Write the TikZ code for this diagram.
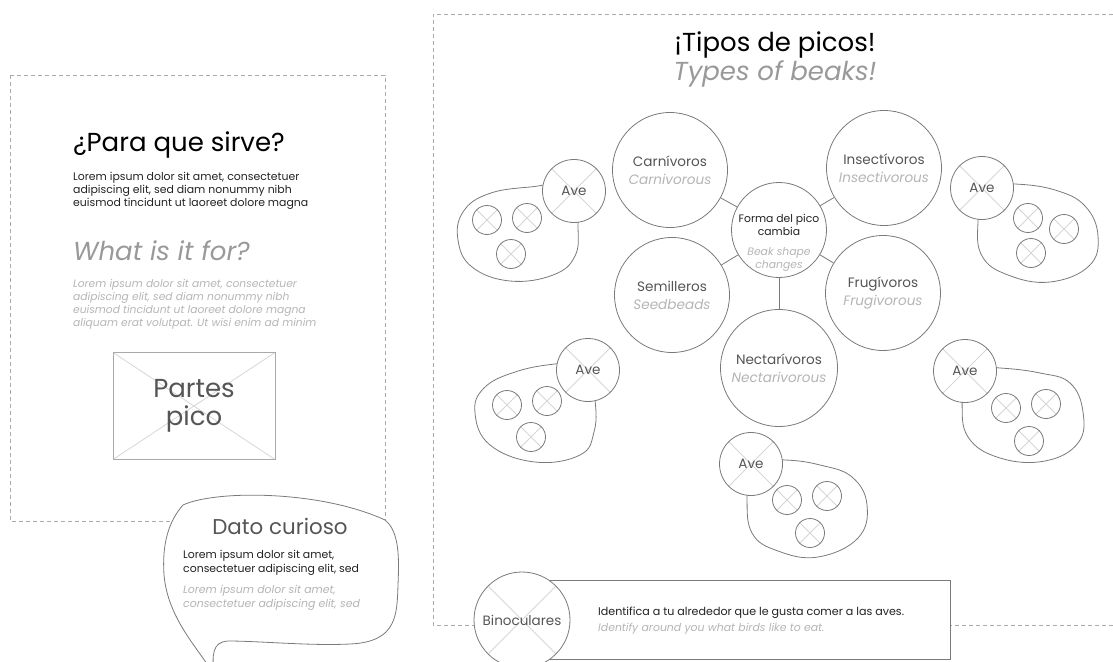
\documentclass[tikz,border=0pt]{standalone}
\usepackage{fontspec}
\setmainfont{Poppins}
\definecolor{linec}{HTML}{7A7A7A}
\definecolor{dashc}{HTML}{AAAAAA}
\definecolor{crossc}{HTML}{D6D6D6}
\definecolor{txtdark}{HTML}{222222}
\definecolor{txtmid}{HTML}{555555}
\definecolor{txtgray}{HTML}{999999}
\definecolor{txtlight}{HTML}{B5B5B5}
\begin{document}
\begin{tikzpicture}[x=1pt,y=-1pt,
  dashline/.style={draw=dashc,line width=0.8pt,dash pattern=on 4pt off 3pt},
  outl/.style={draw=linec,line width=0.8pt},
  xcross/.style={path picture={\draw[crossc,line width=0.8pt]
     (path picture bounding box.north west) -- (path picture bounding box.south east)
     (path picture bounding box.north east) -- (path picture bounding box.south west);}},
  ring/.style={circle,outl,fill=white,inner sep=0pt,minimum size=#1},
  big/.style={ring=115pt,align=center,font=\fontsize{13.6}{18}\selectfont,text=txtmid},
  ave/.style={ring=63pt,xcross,font=\fontsize{13.5}{16}\selectfont,text=txtmid},
  seed/.style={ring=29pt,xcross},
  blob/.style={outl},
  h1/.style={inner sep=0pt,font=\fontsize{26}{30}\selectfont,text=black},
  h1it/.style={inner sep=0pt,font=\fontsize{26}{30}\selectfont\itshape,text=txtgray},
  body/.style={inner sep=0pt,align=left,font=\fontsize{10.9}{12.7}\selectfont,text=txtdark},
  bodyit/.style={inner sep=0pt,align=left,font=\fontsize{10.7}{13.0}\selectfont\itshape,text=txtlight},
]
\useasboundingbox (0,0) rectangle (1113,661);
\clip (0,0) rectangle (1113,661);

% ---------- left panel ----------
\draw[dashline] (10,75) rectangle (385,521);
\node[h1,anchor=base west] (q1) at (73,151) {¿Para que sirve?};
\node[body,anchor=north west] (l1) at (73,172.5) {Lorem ipsum dolor sit amet, consectetuer\\adipiscing elit, sed diam nonummy nibh\\euismod tincidunt ut laoreet dolore magna};
\node[h1it,anchor=base west] (q2) at (73,260) {What is it for?};
\node[bodyit,anchor=north west] (l2) at (73,279.5) {Lorem ipsum dolor sit amet, consectetuer\\adipiscing elit, sed diam nonummy nibh\\euismod tincidunt ut laoreet dolore magna\\aliquam erat volutpat. Ut wisi enim ad minim};
\node[draw=dashc,line width=0.9pt,xcross,minimum width=162pt,minimum height=107pt,inner sep=0pt,
      align=center,font=\fontsize{26}{28}\selectfont,text=txtmid] (pp) at (194,406) {Partes\\pico};

% ---------- Dato curioso bubble ----------
\draw[outl,fill=white] (183,505) .. controls (215,490) and (320,490) .. (385,520)
   .. controls (400,532) and (399,560) .. (398,585)
   .. controls (397,615) and (397,642) .. (350,644)
   .. controls (310,646) and (260,641) .. (228,641)
   .. controls (212,642) and (212,655) .. (214,675)
   .. controls (200,650) and (168,620) .. (164,575)
   .. controls (162,545) and (168,522) .. (183,505) -- cycle;
\node[inner sep=0pt,anchor=base,font=\fontsize{21.4}{24}\selectfont,text=txtmid] (dc) at (280,534) {Dato curioso};
\node[body,anchor=north west,font=\fontsize{10.9}{14}\selectfont] (dl1) at (183,550) {Lorem ipsum dolor sit amet,\\consectetuer adipiscing elit, sed};
\node[bodyit,anchor=north west,font=\fontsize{10.9}{13.5}\selectfont\itshape] (dl2) at (183,585) {Lorem ipsum dolor sit amet,\\consectetuer adipiscing elit, sed};

% ---------- right panel ----------
\draw[dashline] (1120,14) -- (433,14) -- (433,625) -- (1120,625);
\node[h1,anchor=base] (t1) at (775,52) {¡Tipos de picos!};
\node[h1it,anchor=base] (t2) at (775,81) {Types of beaks!};

% bird groups (blobs first, then circles on top)
\draw[blob] plot[smooth cycle,tension=0.7] coordinates {(575,186) (530,187) (488,194) (463,212) (458,240) (472,267) (510,281) (553,275) (575,256) (578,225)};
\draw[blob] plot[smooth cycle,tension=0.7] coordinates {(985,186) (1015,184) (1055,190) (1085,206) (1098,236) (1089,266) (1050,282) (1008,275) (982,256) (978,222)};
\draw[blob] plot[smooth cycle,tension=0.7] coordinates {(587,364) (555,364) (515,372) (484,388) (475,413) (490,445) (535,462) (580,455) (594,432) (595,400)};
\draw[blob] plot[smooth cycle,tension=0.7] coordinates {(965,368) (1000,368) (1040,373) (1070,383) (1083,412) (1078,443) (1045,461) (1000,458) (968,437) (962,400)};
\draw[blob] plot[smooth cycle,tension=0.7] coordinates {(750,462) (785,460) (820,465) (852,477) (867,505) (858,538) (818,557) (778,551) (752,533) (747,496)};

\node[ave] (a1) at (574,191) {Ave};
\node[seed] (a1s1) at (487,220) {};
\node[seed] (a1s2) at (527,218) {};
\node[seed] (a1s3) at (511,254) {};

\node[ave] (a2) at (982,188) {Ave};
\node[seed] (a2s1) at (1028,218) {};
\node[seed] (a2s2) at (1064,229) {};
\node[seed] (a2s3) at (1031,253) {};

\node[ave] (a3) at (588,370) {Ave};
\node[seed] (a3s1) at (507,405) {};
\node[seed] (a3s2) at (547,401) {};
\node[seed] (a3s3) at (531,437) {};

\node[ave] (a4) at (965,371) {Ave};
\node[seed] (a4s1) at (1006,408) {};
\node[seed] (a4s2) at (1046,404) {};
\node[seed] (a4s3) at (1029,441) {};

\node[ave] (a5) at (751,464) {Ave};
\node[seed] (a5s1) at (787,500) {};
\node[seed] (a5s2) at (827,496) {};
\node[seed] (a5s3) at (810,533) {};

% beak circles
\node[big] (carn) at (670,170) {Carnívoros\\{\color{txtlight}\itshape Carnivorous}};
\node[big] (inse) at (884,168) {Insectívoros\\{\color{txtlight}\itshape Insectivorous}};
\node[big] (semi) at (672,295) {Semilleros\\{\color{txtlight}\itshape Seedbeads}};
\node[big] (frug) at (883,293) {Frugívoros\\{\color{txtlight}\itshape Frugivorous}};
\node[big,minimum size=117pt] (nect) at (779,368) {Nectarívoros\\{\color{txtlight}\itshape Nectarivorous}};
\node[ring=95pt] (cent) at (779,230) {};
\node[inner sep=0pt,align=center,font=\fontsize{10.8}{13}\selectfont,text=txtdark] (centtxt) at (779,243)
   {Forma del pico\\cambia\\[7pt]{\color{txtlight}\itshape Beak shape}\\{\color{txtlight}\itshape changes}};
\foreach \n in {carn,inse,semi,frug,nect} \draw[outl] (cent) -- (\n);

% binoculars
\node[draw=linec,line width=0.8pt,fill=white,minimum width=410pt,minimum height=79pt,inner sep=0pt,anchor=north west] (idbox) at (540,580) {};
\node[ring=96pt,xcross,font=\fontsize{13.5}{16}\selectfont,text=txtmid] (bino) at (522,620) {Binoculares};
\node[inner sep=0pt,anchor=base west,font=\fontsize{11.1}{12}\selectfont,text=txtdark] (id1) at (598,615) {Identifica a tu alrededor que le gusta comer a las aves.};
\node[inner sep=0pt,anchor=base west,font=\fontsize{10.9}{12}\selectfont\itshape,text=txtlight] (id2) at (598,631) {Identify around you what birds like to eat.};
\end{tikzpicture}
\end{document}
